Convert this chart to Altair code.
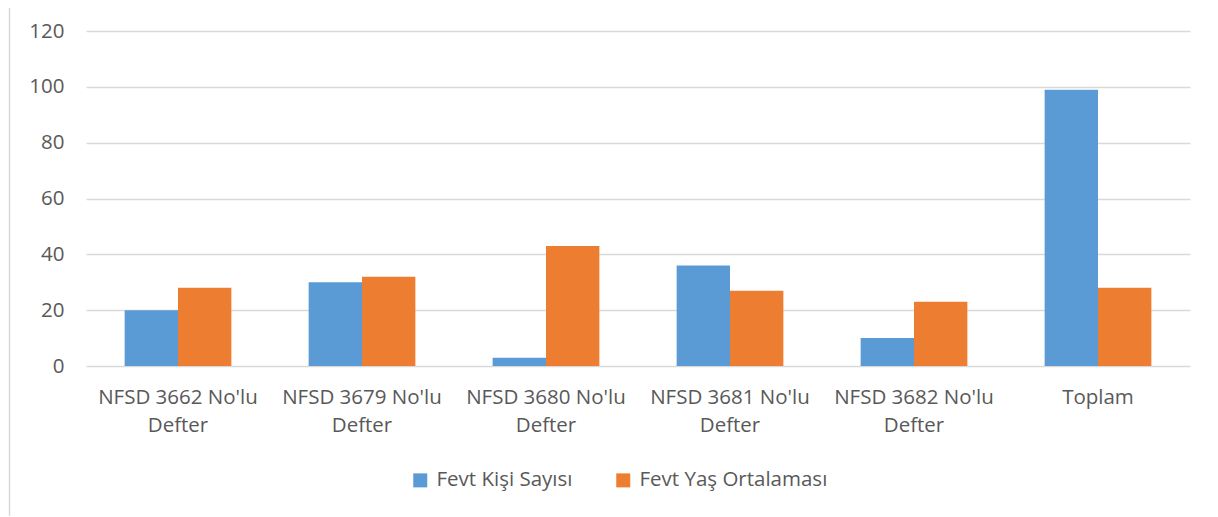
import altair as alt
import pandas as pd

categories = ["NFSD 3662 No'lu Defter", "NFSD 3679 No'lu Defter", "NFSD 3680 No'lu Defter",
              "NFSD 3681 No'lu Defter", "NFSD 3682 No'lu Defter", "Toplam"]
series_names = ["Fevt Kişi Sayısı", "Fevt Yaş Ortalaması"]
kisi_sayisi = [20, 30, 3, 36, 10, 99]
yas_ortalamasi = [28, 32, 43, 27, 23, 28]
y_ticks = [0, 20, 40, 60, 80, 100, 120]
colors = ["#5B9BD5", "#ED7D31"]

rows = []
for c, a, b in zip(categories, kisi_sayisi, yas_ortalamasi):
    rows.append({"cat": c, "series": series_names[0], "value": a})
    rows.append({"cat": c, "series": series_names[1], "value": b})
df = pd.DataFrame(rows)

FONT = "Open Sans"
TXT = "#595959"

label_expr = ("indexof(datum.label, ' Defter') > 0 ? "
              "[replace(datum.label, ' Defter', ''), 'Defter'] : datum.label")

bars = alt.Chart(df).mark_bar().encode(
    x=alt.X("cat:N", sort=categories, title=None,
            scale=alt.Scale(paddingInner=0.42, paddingOuter=0.21),
            axis=alt.Axis(labelExpr=label_expr, labelAngle=0, labelFont=FONT,
                          labelFontSize=20.5, labelColor=TXT, labelPadding=21,
                          labelLineHeight=28, ticks=False, domain=False,
                          grid=False, labelLimit=300)),
    xOffset=alt.XOffset("series:N", sort=series_names),
    y=alt.Y("value:Q", title=None,
            scale=alt.Scale(domain=[0, 120], nice=False),
            axis=alt.Axis(values=y_ticks, labelFont=FONT, labelFontSize=20.5,
                          labelColor=TXT, labelPadding=22, ticks=False,
                          domain=False, grid=True, gridColor="#D9D9D9",
                          gridWidth=1.5)),
    color=alt.Color("series:N", sort=series_names,
                    scale=alt.Scale(domain=series_names, range=colors),
                    legend=alt.Legend(title=None, orient="none", direction="horizontal",
                                      legendX=324, legendY=439,
                                      symbolType="square", symbolSize=196,
                                      symbolStrokeWidth=0,
                                      labelFont=FONT, labelFontSize=20.5,
                                      labelColor=TXT, labelOffset=6,
                                      labelLimit=400,
                                      columnPadding=40)),
)

border_df = pd.DataFrame({"k": [0]})
border = alt.Chart(border_df).mark_rect(fill=None, stroke="#D9D9D9", strokeWidth=1.5).encode(
    x=alt.value(-76.5), x2=alt.value(1200), y=alt.value(-29.5), y2=alt.value(600)
)

chart = alt.layer(bars, border).properties(
    width=1104, height=335,
    background="white",
    autosize=alt.AutoSizeParams(type="none"),
    padding={"left": 78, "top": 23, "right": 20, "bottom": 150},
).configure_view(strokeWidth=0, stroke="transparent")

chart.save("out.html", embed_options={"renderer": "svg", "actions": False})
